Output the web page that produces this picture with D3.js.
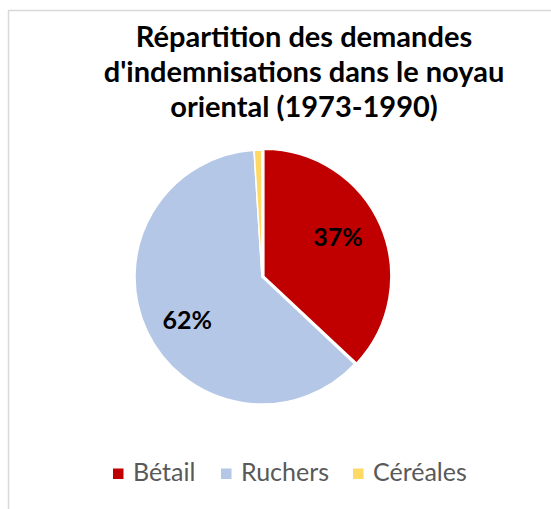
<!DOCTYPE html>
<html>
<head>
<meta charset="utf-8">
<script src="https://cdn.jsdelivr.net/npm/d3@7"></script>
<style>
  body { margin: 0; background: #fff; }
  svg { display: block; }
</style>
</head>
<body>
<div id="chart"></div>
<script>
// data
var categories = ["Bétail", "Ruchers", "Céréales"];
var values = [37, 62, 1];
var colors = ["#C00000", "#B4C7E7", "#FFD966"];
var titleLines = ["Répartition des demandes", "d'indemnisations dans le noyau", "oriental (1973-1990)"];

var width = 551, height = 509;
var cx = 262, cy = 277, radius = 127;
var font = "Lato, 'Open Sans', sans-serif";

var svg = d3.select("#chart")
  .append("svg")
  .attr("width", width)
  .attr("height", height);

// chart frame (runs off the right and bottom edges)
svg.append("rect")
  .attr("x", 8.5)
  .attr("y", 10.5)
  .attr("width", width + 20)
  .attr("height", height + 20)
  .attr("fill", "white")
  .attr("stroke", "#d9d9d9")
  .attr("stroke-width", 1.5);

// title
svg.append("g")
  .selectAll("text")
  .data(titleLines)
  .enter()
  .append("text")
  .attr("x", 304)
  .attr("y", function(d, i) { return 46.5 + i * 35; })
  .attr("text-anchor", "middle")
  .style("font-family", font)
  .style("font-weight", "bold")
  .style("font-size", "29px")
  .style("fill", "#000")
  .text(function(d) { return d; });

var total = d3.sum(values);
var pie = d3.pie().sort(null).value(function(d) { return d; });
var arcs = pie(values);
var arc = d3.arc().innerRadius(0).outerRadius(radius);

var g = svg.append("g").attr("transform", "translate(" + cx + "," + cy + ")");

// red slice pulled out a little
var explode = function(d, i) {
  if (i !== 0) return "";
  var a = (d.startAngle + d.endAngle) / 2;
  return "translate(" + (Math.sin(a) * 2) + "," + (-Math.cos(a) * 2) + ")";
};

g.selectAll("path")
  .data(arcs)
  .enter()
  .append("path")
  .attr("d", arc)
  .attr("transform", explode)
  .attr("fill", function(d, i) { return colors[i]; })
  .attr("stroke", "white")
  .attr("stroke-width", 1.5)
  .attr("stroke-linejoin", "round");

// percentage labels (not for the tiny slice), nudged like excel's best fit
var labelPos = function(d) {
  var a = (d.startAngle + d.endAngle) / 2 - 0.08;
  var r = 86;
  return [Math.sin(a) * r, -Math.cos(a) * r];
};

g.selectAll(".lbl")
  .data(arcs.filter(function(d) { return d.value / total > 0.05; }))
  .enter()
  .append("text")
  .attr("class", "lbl")
  .attr("transform", function(d) {
    var c = labelPos(d);
    return "translate(" + c[0] + "," + c[1] + ")";
  })
  .attr("text-anchor", "middle")
  .attr("dy", "0.36em")
  .style("font-family", font)
  .style("font-weight", "bold")
  .style("font-size", "25px")
  .style("fill", "#000")
  .text(function(d) { return Math.round(d.value / total * 100) + "%"; });

// legend
var legendX = [113, 221, 353];
var legend = svg.append("g")
  .selectAll("g")
  .data(categories)
  .enter()
  .append("g")
  .attr("transform", function(d, i) { return "translate(" + legendX[i] + ",468.5)"; });

legend.append("rect")
  .attr("width", 10.5)
  .attr("height", 10.5)
  .attr("fill", function(d, i) { return colors[i]; });

legend.append("text")
  .attr("x", 20)
  .attr("y", 12.5)
  .style("font-family", font)
  .style("font-size", "25px")
  .style("fill", "#595959")
  .text(function(d) { return d; });
</script>
</body>
</html>
